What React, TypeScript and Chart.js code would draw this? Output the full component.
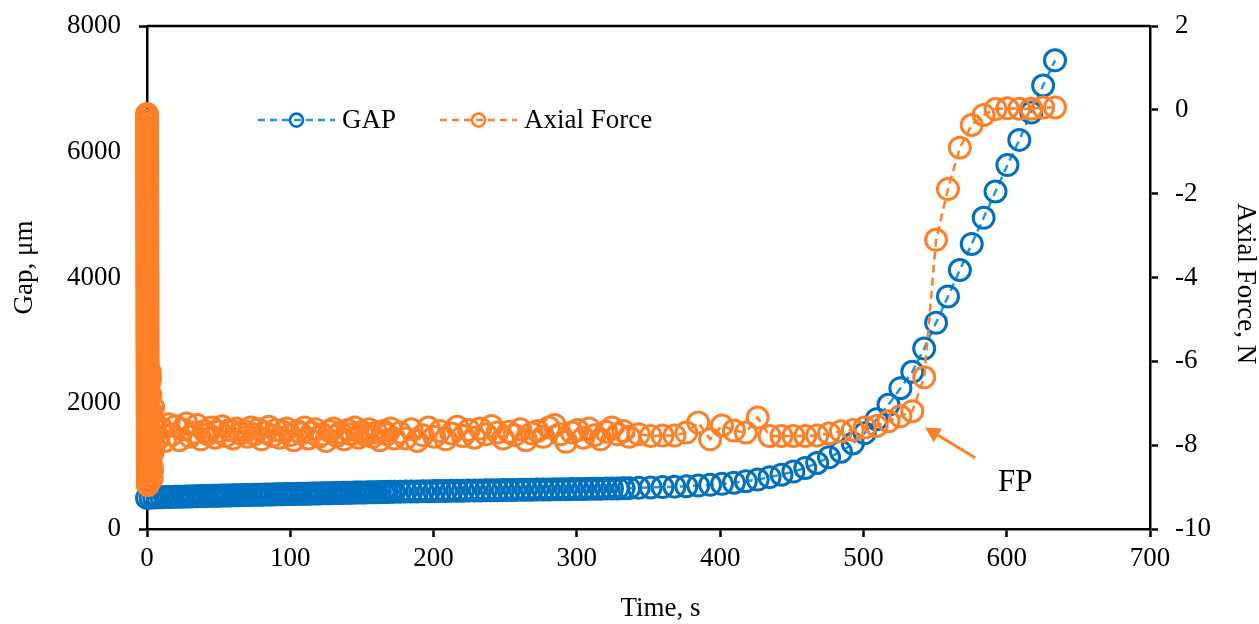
import { useEffect, useRef } from 'react';
import { Chart, registerables } from 'chart.js';

Chart.register(...registerables);

// ---- Data ----
// Initial force spike at t ~ 0 s
const spikeTime = [
  0, 0.005, 0.01, 0.015, 0.02, 0.025, 0.03, 0.035, 0.04, 0.045,
  0.05, 0.055, 0.06, 0.065, 0.07, 0.075, 0.08, 0.085, 0.09, 0.095,
  0.1, 0.105, 0.11, 0.115, 0.12, 0.125, 0.13, 0.135, 0.14, 0.145,
  0.15, 0.155, 0.16, 0.165, 0.17, 0.175, 0.18, 0.185, 0.19, 0.195,
  0.2, 0.205, 0.21, 0.215, 0.22, 0.225, 0.23, 0.235, 0.24, 0.245,
  0.25, 0.255, 0.26, 0.265, 0.27, 0.275, 0.28, 0.285, 0.29, 0.295,
  0.3, 0.305, 0.31, 0.315, 0.32, 0.325, 0.33, 0.335, 0.34, 0.345,
  0.35, 0.355, 0.36, 0.365, 0.37, 0.375, 0.38, 0.385, 0.39, 0.395,
  0.4, 0.405, 0.41, 0.415, 0.42, 0.425, 0.43, 0.435, 0.44, 0.445,
  0.45, 0.455, 0.46, 0.465, 0.47, 0.475, 0.48, 0.485, 0.49, 0.495,
  0.5, 0.505, 0.51, 0.515, 0.52, 0.525, 0.53, 0.535, 0.54, 0.545,
  0.55, 0.555, 0.56, 0.565, 0.57, 0.575, 0.58, 0.585, 0.59, 0.595,
];
const spikeForce = [
  -0.10, -0.17, -0.25, -0.32, -0.40, -0.47, -0.54, -0.62, -0.69, -0.77,
  -0.84, -0.92, -0.99, -1.06, -1.14, -1.21, -1.29, -1.36, -1.44, -1.51,
  -1.58, -1.66, -1.73, -1.81, -1.88, -1.96, -2.03, -2.10, -2.18, -2.25,
  -2.33, -2.40, -2.48, -2.55, -2.62, -2.70, -2.77, -2.85, -2.92, -3.00,
  -3.07, -3.14, -3.22, -3.29, -3.37, -3.44, -3.52, -3.59, -3.66, -3.74,
  -3.81, -3.89, -3.96, -4.04, -4.11, -4.18, -4.26, -4.33, -4.41, -4.48,
  -4.56, -4.63, -4.70, -4.78, -4.85, -4.93, -5.00, -5.08, -5.15, -5.22,
  -5.30, -5.37, -5.45, -5.52, -5.60, -5.67, -5.74, -5.82, -5.89, -5.97,
  -6.04, -6.12, -6.19, -6.26, -6.34, -6.41, -6.49, -6.56, -6.64, -6.71,
  -6.78, -6.86, -6.93, -7.01, -7.08, -7.16, -7.23, -7.30, -7.38, -7.45,
  -7.53, -7.60, -7.68, -7.75, -7.82, -7.90, -7.97, -8.05, -8.12, -8.20,
  -8.27, -8.34, -8.42, -8.49, -8.57, -8.64, -8.72, -8.79, -8.87, -8.95,
];
const lumpTime = [0.65, 0.8, 0.95, 1.1, 1.3, 1.5, 1.7, 1.9, 2.1, 2.3, 2.5, 2.7, 2.9, 3.1, 3.3, 3.5, 3.7, 3.9, 4.1, 4.3, 4.5, 4.7];
const lumpForce = [-8.90, -8.60, -8.20, -7.80, -7.30, -6.90, -6.50, -6.25, -6.40, -6.80, -7.20, -7.70, -8.10, -8.50, -8.80, -8.60, -8.20, -7.80, -7.40, -7.10, -7.60, -8.00];

// Shared sampling times
const timeC = [0, 2.5, 5, 7.5, 10, 12.5, 15, 17.5, 20, 22.5, 25, 27.5, 30, 32.5, 35, 37.5, 40, 42.5, 45, 47.5, 50, 52.5, 55, 57.5, 60, 62.5, 65, 67.5, 70, 72.5, 75, 77.5, 80, 82.5, 85, 87.5, 90, 92.5, 95, 97.5, 100, 102.5, 105, 107.5, 110, 112.5, 115, 117.5, 120, 122.5, 125, 127.5, 130, 132.5, 135, 137.5, 140, 142.5, 145, 147.5, 150, 152.5, 155, 157.5, 160, 162.5, 165, 167.5, 170, 172.5];
const timeD = [176.5, 180.5, 184.5, 188.5, 192.5, 196.5, 200.5, 204.5, 208.5, 212.5, 216.5, 220.5, 224.5, 228.5, 232.5, 236.5, 240.5, 244.5, 248.5, 252.5, 256.5, 260.5, 264.5, 268.5, 272.5, 276.5, 280.5, 284.5, 288.5, 292.5, 296.5, 300.5, 304.5, 308.5, 312.5, 316.5, 320.5, 324.5, 328.5, 332.5, 336.5];
const timeE = [343.2, 351.5, 359.8, 368.1, 376.4, 384.7, 393.0, 401.3, 409.6, 417.9, 426.2, 434.5, 442.8, 451.1, 459.4, 467.7, 476.0, 484.3, 492.6, 500.9, 509.2, 517.5, 525.8, 534.1, 542.4, 550.7, 559.0, 567.3, 575.6, 583.9, 592.2, 600.5, 608.8, 617.1, 625.4, 633.7];

// GAP, µm
const gapC = [
  495, 499, 502, 504, 506, 508, 509, 511, 512, 514,
  515, 517, 518, 520, 521, 523, 524, 526, 527, 528,
  530, 531, 532, 534, 535, 536, 538, 539, 540, 542,
  543, 544, 546, 547, 548, 550, 551, 552, 554, 555,
  556, 557, 559, 560, 561, 562, 564, 565, 566, 567,
  569, 570, 571, 572, 574, 575, 576, 577, 579, 580,
  581, 582, 584, 585, 586, 587, 589, 590, 591, 592,
];
const gapD = [
  594, 595, 597, 598, 600, 601, 603, 604, 605, 607,
  608, 610, 611, 612, 614, 615, 616, 618, 619, 620,
  622, 623, 624, 626, 627, 628, 630, 631, 632, 634,
  635, 636, 638, 639, 640, 642, 643, 645, 646, 648, 650,
];
const gapE = [655, 661, 667, 674, 681, 691, 703, 718, 736, 760, 787, 825, 864, 913, 972, 1050, 1140, 1230, 1360, 1525, 1745, 1975, 2240, 2500, 2870, 3280, 3700, 4120, 4535, 4950, 5370, 5790, 6190, 6625, 7055, 7455];

// Axial force, N (from t = 5 s on the shared times)
const forceC = [
  -7.45, -7.85, -7.60, -7.90, -7.50, -7.75, -7.55, -7.88, -7.62, -7.48,
  -7.80, -7.70, -7.52, -7.86, -7.66, -7.74, -7.58, -7.82, -7.68, -7.55,
  -7.78, -7.64, -7.84, -7.60, -7.72, -7.66, -7.80, -7.58, -7.74, -7.62,
  -7.86, -7.70, -7.56, -7.78, -7.64, -7.82, -7.68, -7.60, -7.76, -7.88,
  -7.66, -7.72, -7.58, -7.84, -7.70, -7.62, -7.80, -7.74, -7.90, -7.66,
  -7.60, -7.78, -7.70, -7.86, -7.64, -7.74, -7.58, -7.82, -7.68, -7.76,
  -7.62, -7.80, -7.70, -7.88, -7.66, -7.74, -7.60, -7.84,
];
const forceD = [
  -7.70, -7.84, -7.62, -7.90, -7.76, -7.58, -7.80, -7.66, -7.86, -7.72,
  -7.56, -7.78, -7.64, -7.82, -7.60, -7.74, -7.54, -7.70, -7.84, -7.68,
  -7.76, -7.62, -7.88, -7.72, -7.66, -7.80, -7.58, -7.52, -7.74, -7.92,
  -7.70, -7.64, -7.82, -7.60, -7.76, -7.86, -7.68, -7.58, -7.74, -7.66,
  -7.80,
];
const forceE = [-7.74, -7.78, -7.77, -7.77, -7.70, -7.46, -7.86, -7.53, -7.65, -7.70, -7.34, -7.78, -7.78, -7.78, -7.78, -7.77, -7.72, -7.67, -7.64, -7.58, -7.54, -7.43, -7.31, -7.19, -6.38, -3.10, -1.89, -0.90, -0.36, -0.12, 0.02, 0.04, 0.03, 0.03, 0.06, 0.06];

const seriesNames = ['GAP', 'Axial Force'];
const xTitle = 'Time, s';
const yTitle = 'Gap, μm';
const y2Title = 'Axial Force, N';
const fpNote = { text: 'FP', tailT: 578, tailF: -8.3, tipT: 543, tipF: -7.58, labelT: 606, labelF: -8.9 };

const gapTime = [...timeC, ...timeD, ...timeE];
const gapValues = [...gapC, ...gapD, ...gapE];
const forceTime = [...spikeTime, ...lumpTime, ...timeC.slice(2), ...timeD, ...timeE];
const forceValues = [...spikeForce, ...lumpForce, ...forceC, ...forceD, ...forceE];

function toPoints(xs: number[], ys: number[]) {
  const n = Math.min(xs.length, ys.length);
  const out: { x: number; y: number }[] = [];
  for (let i = 0; i < n; i++) out.push({ x: xs[i], y: ys[i] });
  return out;
}

const BLUE_MARK = '#0070C0';
const BLUE_LINE = '#2196DB';
const ORANGE = '#FF7F27';
const FONT = 'Liberation Serif';

const overlay = {
  id: 'overlay',
  beforeDatasetsDraw(chart: any) {
    const { ctx, chartArea } = chart;
    ctx.save();
    ctx.strokeStyle = '#000';
    ctx.lineWidth = 2.5;
    ctx.beginPath();
    ctx.moveTo(chartArea.left, chartArea.top);
    ctx.lineTo(chartArea.right, chartArea.top);
    ctx.stroke();
    ctx.restore();
  },
  afterDraw(chart: any) {
    const { ctx, chartArea } = chart;
    const xs = chart.scales.x;
    const y2 = chart.scales.y2;
    ctx.save();
    ctx.fillStyle = '#000';
    ctx.font = `27px "${FONT}"`;
    ctx.textAlign = 'center';
    ctx.textBaseline = 'middle';
    // x title
    ctx.fillText(xTitle, (chartArea.left + chartArea.right) / 2 + 12, 609);
    // left title
    ctx.save();
    ctx.translate(25, (chartArea.top + chartArea.bottom) / 2 - 10);
    ctx.rotate(-Math.PI / 2);
    ctx.fillText(yTitle, 0, 0);
    ctx.restore();
    // right title
    ctx.save();
    ctx.translate(1245, (chartArea.top + chartArea.bottom) / 2 + 6);
    ctx.rotate(Math.PI / 2);
    ctx.fillText(y2Title, 0, 0);
    ctx.restore();

    // legend
    const items = [
      { x: chartArea.left + 111, line: BLUE_LINE, mark: BLUE_MARK, label: seriesNames[0] },
      { x: chartArea.left + 293, line: ORANGE, mark: ORANGE, label: seriesNames[1] },
    ];
    const ly = chartArea.top + 94;
    for (const it of items) {
      ctx.save();
      ctx.strokeStyle = it.line;
      ctx.lineWidth = 2.5;
      ctx.setLineDash([7, 5]);
      ctx.beginPath();
      ctx.moveTo(it.x, ly);
      ctx.lineTo(it.x + 77, ly);
      ctx.stroke();
      ctx.setLineDash([]);
      ctx.strokeStyle = it.mark;
      ctx.lineWidth = 2.6;
      ctx.beginPath();
      ctx.arc(it.x + 38.5, ly, 6.5, 0, Math.PI * 2);
      ctx.stroke();
      ctx.fillStyle = '#000';
      ctx.textAlign = 'left';
      ctx.fillText(it.label, it.x + 84, ly + 1);
      ctx.restore();
    }

    // FP annotation
    const tx = xs.getPixelForValue(fpNote.tailT);
    const ty = y2.getPixelForValue(fpNote.tailF);
    const hx = xs.getPixelForValue(fpNote.tipT);
    const hy = y2.getPixelForValue(fpNote.tipF);
    const ang = Math.atan2(hy - ty, hx - tx);
    const headLen = 15;
    const headW = 8;
    const bx = hx - headLen * Math.cos(ang);
    const by = hy - headLen * Math.sin(ang);
    ctx.strokeStyle = ORANGE;
    ctx.fillStyle = ORANGE;
    ctx.lineWidth = 3;
    ctx.beginPath();
    ctx.moveTo(tx, ty);
    ctx.lineTo(bx, by);
    ctx.stroke();
    ctx.beginPath();
    ctx.moveTo(hx, hy);
    ctx.lineTo(bx + headW * Math.sin(ang), by - headW * Math.cos(ang));
    ctx.lineTo(bx - headW * Math.sin(ang), by + headW * Math.cos(ang));
    ctx.closePath();
    ctx.fill();
    ctx.fillStyle = '#000';
    ctx.font = `31px "${FONT}"`;
    ctx.textAlign = 'center';
    ctx.textBaseline = 'middle';
    ctx.fillText(fpNote.text, xs.getPixelForValue(fpNote.labelT), y2.getPixelForValue(fpNote.labelF));
    ctx.restore();
  },
};

export default function App() {
  const ref = useRef<HTMLCanvasElement | null>(null);
  useEffect(() => {
    if (!ref.current) return;
    const tickFont = { family: FONT, size: 27 };
    // compact line height only affects layout reservation for the vertical axes
    const vTickFont = { family: FONT, size: 27, lineHeight: 0.6 };
    const plainLabel = (v: any) => String(v);
    const chart = new Chart(ref.current, {
      type: 'scatter',
      data: {
        datasets: [
          {
            label: seriesNames[1],
            data: toPoints(forceTime, forceValues),
            yAxisID: 'y2',
            showLine: true,
            borderColor: ORANGE,
            borderWidth: 2.5,
            borderDash: [8, 5],
            pointRadius: 10.5,
            pointBorderWidth: 3,
            pointBorderColor: ORANGE,
            pointBackgroundColor: 'rgba(0,0,0,0)',
            clip: false,
          } as any,
          {
            label: seriesNames[0],
            data: toPoints(gapTime, gapValues),
            yAxisID: 'y',
            showLine: true,
            borderColor: BLUE_LINE,
            borderWidth: 2.5,
            borderDash: [8, 5],
            pointRadius: 10.5,
            pointBorderWidth: 3,
            pointBorderColor: BLUE_MARK,
            pointBackgroundColor: 'rgba(0,0,0,0)',
            clip: false,
          } as any,
        ],
      },
      options: {
        animation: false,
        responsive: false,
        devicePixelRatio: 1,
        layout: { padding: { top: 26, left: 0, right: 0, bottom: 0 } },
        plugins: { legend: { display: false }, tooltip: { enabled: false } },
        scales: {
          x: {
            type: 'linear',
            position: 'bottom',
            min: 0,
            max: 700,
            ticks: { stepSize: 100, color: '#000', font: tickFont, padding: 6, maxRotation: 0, callback: plainLabel },
            grid: { drawOnChartArea: false, tickLength: 8, tickWidth: 2.5, tickColor: '#000' },
            border: { color: '#000', width: 2.5 },
            afterFit: (s: any) => { s.height = 95; },
          },
          y: {
            type: 'linear',
            position: 'left',
            min: 0,
            max: 8000,
            ticks: { stepSize: 2000, color: '#000', font: vTickFont, padding: 18, callback: plainLabel },
            grid: { drawOnChartArea: false, tickLength: 8, tickWidth: 2.5, tickColor: '#000' },
            border: { color: '#000', width: 2.5 },
            afterFit: (s: any) => { s.width = 147; },
          },
          y2: {
            type: 'linear',
            position: 'right',
            min: -10,
            max: 2,
            ticks: { stepSize: 2, color: '#000', font: vTickFont, padding: 17, callback: plainLabel },
            grid: { drawOnChartArea: false, tickLength: 8, tickWidth: 2.5, tickColor: '#000' },
            border: { color: '#000', width: 2.5 },
            afterFit: (s: any) => { s.width = 109; },
          },
        },
      } as any,
      plugins: [overlay],
    });
    return () => chart.destroy();
  }, []);
  return (
    <div style={{ position: 'absolute', left: 0, top: 0, width: 1259, height: 624 }}>
      <canvas ref={ref} width={1259} height={624} style={{ display: 'block' }} />
    </div>
  );
}
